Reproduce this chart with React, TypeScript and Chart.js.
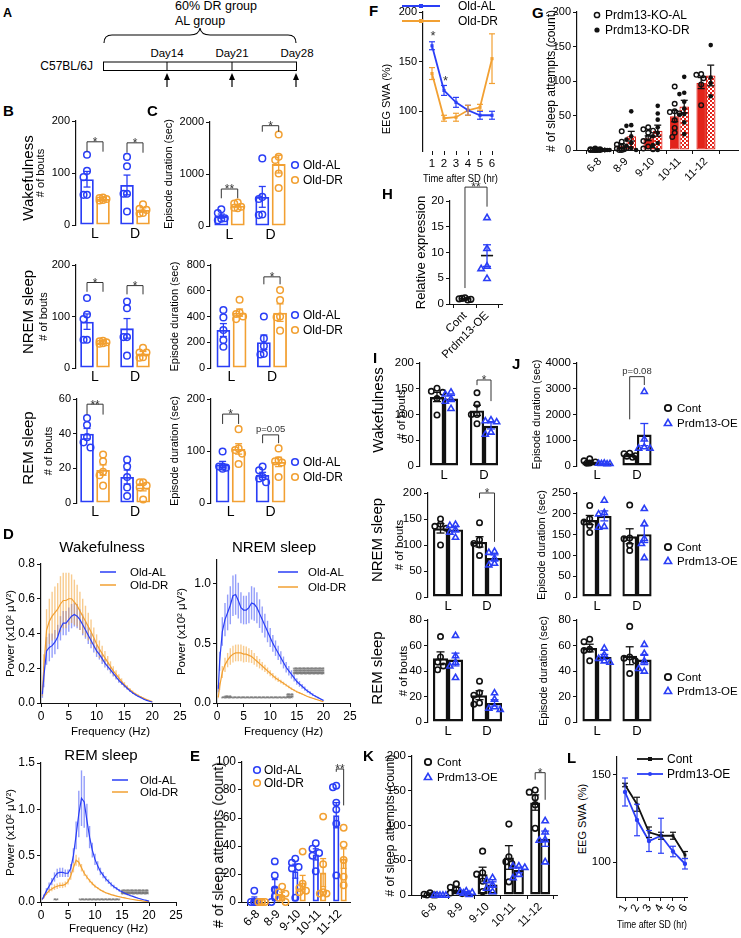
import React, { useEffect, useRef } from 'react';
import { Chart, registerables } from 'chart.js';

Chart.register(...registerables);

const FF = '"Liberation Sans", Arial, Helvetica, sans-serif';
Chart.defaults.font.family = FF;
Chart.defaults.color = '#000';

const BLUE = '#2a3ef6';
const ORANGE = '#f2a032';
const RED = '#e2231a';
const INK = '#111111';
const BLUE_E = 'rgba(42,62,246,0.5)';
const ORANGE_E = 'rgba(242,160,50,0.55)';

/* ===================== DATA ===================== */
const LD = ['L', 'D'];
const SLEEP_BINS = ['6-8', '8-9', '9-10', '10-11', '11-12'];
const OE_GROUPS = ['Cont', 'Prdm13-OE'];
const HOURS = [1, 2, 3, 4, 5, 6];

// B – number of bouts (Old-AL / Old-DR), categories L, D
const bWakeAL = [88, 77];
const bWakeALSem = [15, 19];
const bWakeALPts = [[135, 104, 92, 58, 58], [131, 113, 60, 60, 26]];
const bWakeDR = [50, 29];
const bWakeDRSem = [2, 4];
const bWakeDRPts = [[53, 52, 50, 48, 47], [40, 31, 29, 23, 22]];
const bNremAL = [90, 77];
const bNremALSem = [15, 19];
const bNremALPts = [[136, 104, 95, 55, 55], [129, 116, 60, 60, 24]];
const bNremDR = [50, 28];
const bNremDRSem = [2, 4];
const bNremDRPts = [[53, 52, 50, 48, 47], [39, 30, 30, 21, 20]];
const bRemAL = [40, 15];
const bRemALSem = [3, 4];
const bRemALPts = [[49, 45, 38, 35, 32], [25, 21, 15, 9, 4]];
const bRemDR = [19, 9];
const bRemDRSem = [3, 2];
const bRemDRPts = [[28, 24, 18, 16, 10], [12, 12, 10, 9, 2]];

// C – episode duration (sec)
const cWakeAL = [190, 560];
const cWakeALSem = [40, 200];
const cWakeALPts = [[320, 250, 150, 110, 140], [1300, 560, 520, 220, 210]];
const cWakeDR = [390, 1190];
const cWakeDRSem = [25, 170];
const cWakeDRPts = [[450, 430, 370, 350, 340], [1760, 1330, 1270, 1010, 730]];
const cNremAL = [295, 200];
const cNremALSem = [50, 56];
const cNremALPts = [[450, 393, 295, 217, 165], [400, 230, 170, 110, 105]];
const cNremDR = [430, 430];
const cNremDRSem = [28, 68];
const cNremDRPts = [[530, 430, 420, 400, 380], [605, 527, 400, 395, 290]];
const cRemAL = [74, 54];
const cRemALSem = [6, 5];
const cRemALPts = [[99, 70, 70, 68, 66], [70, 63, 50, 47, 40]];
const cRemDR = [104, 79];
const cRemDRSem = [10, 9];
const cRemDRPts = [[142, 105, 102, 95, 75], [105, 82, 80, 78, 50]];

// D – EEG power spectra (x10^2 uV^2)
const FREQ = [0.25, 0.5, 1, 1.5, 2, 2.5, 3, 3.5, 4, 4.5, 5, 5.5, 6, 6.5, 7, 7.5, 8, 8.5, 9, 9.5, 10, 10.5, 11, 11.5, 12, 12.5, 13, 13.5, 14, 14.5, 15, 15.5, 16, 16.5, 17, 17.5, 18, 18.5, 19, 19.5, 20];
const wakeAL = [0.05, 0.15, 0.3, 0.32, 0.33, 0.35, 0.38, 0.43, 0.46, 0.46, 0.48, 0.5, 0.51, 0.5, 0.48, 0.45, 0.42, 0.39, 0.36, 0.33, 0.3, 0.28, 0.255, 0.23, 0.21, 0.19, 0.17, 0.15, 0.13, 0.115, 0.1, 0.085, 0.07, 0.058, 0.048, 0.038, 0.03, 0.022, 0.015, 0.01, 0.006];
const wakeALSem = [0.02, 0.06, 0.08, 0.08, 0.07, 0.07, 0.07, 0.07, 0.07, 0.07, 0.07, 0.07, 0.07, 0.07, 0.06, 0.06, 0.05, 0.05, 0.045, 0.04, 0.035, 0.03, 0.03, 0.025, 0.022, 0.02, 0.018, 0.015, 0.013, 0.011, 0.01, 0.008, 0.007, 0.006, 0.005, 0.004, 0.003, 0.003, 0.002, 0.002, 0.001];
const wakeDR = [0.07, 0.2, 0.42, 0.47, 0.5, 0.52, 0.54, 0.57, 0.59, 0.59, 0.6, 0.6, 0.58, 0.56, 0.53, 0.5, 0.47, 0.44, 0.41, 0.375, 0.34, 0.31, 0.285, 0.26, 0.235, 0.21, 0.185, 0.165, 0.145, 0.125, 0.105, 0.09, 0.077, 0.064, 0.052, 0.043, 0.035, 0.027, 0.02, 0.014, 0.008];
const wakeDRSem = [0.03, 0.08, 0.12, 0.13, 0.14, 0.15, 0.15, 0.16, 0.16, 0.16, 0.15, 0.14, 0.13, 0.12, 0.11, 0.1, 0.09, 0.08, 0.07, 0.06, 0.055, 0.05, 0.045, 0.04, 0.035, 0.03, 0.027, 0.024, 0.02, 0.017, 0.015, 0.012, 0.01, 0.008, 0.007, 0.006, 0.005, 0.004, 0.003, 0.002, 0.001];
const nremAL = [0.12, 0.35, 0.6, 0.7, 0.76, 0.82, 0.9, 0.91, 0.86, 0.8, 0.78, 0.78, 0.8, 0.84, 0.83, 0.8, 0.75, 0.7, 0.65, 0.6, 0.55, 0.5, 0.46, 0.42, 0.38, 0.34, 0.3, 0.27, 0.24, 0.21, 0.18, 0.16, 0.14, 0.12, 0.1, 0.085, 0.07, 0.057, 0.045, 0.033, 0.022];
const nremALSem = [0.03, 0.08, 0.12, 0.14, 0.15, 0.16, 0.17, 0.17, 0.15, 0.13, 0.12, 0.12, 0.13, 0.14, 0.14, 0.13, 0.12, 0.11, 0.1, 0.09, 0.08, 0.07, 0.065, 0.06, 0.055, 0.05, 0.045, 0.04, 0.035, 0.03, 0.027, 0.024, 0.02, 0.018, 0.015, 0.013, 0.011, 0.009, 0.007, 0.005, 0.004];
const nremDR = [0.05, 0.14, 0.26, 0.32, 0.36, 0.39, 0.41, 0.42, 0.42, 0.42, 0.41, 0.41, 0.4, 0.39, 0.37, 0.35, 0.33, 0.31, 0.29, 0.27, 0.25, 0.23, 0.21, 0.195, 0.18, 0.165, 0.15, 0.135, 0.12, 0.107, 0.095, 0.085, 0.075, 0.065, 0.055, 0.047, 0.04, 0.032, 0.025, 0.018, 0.012];
const nremDRSem = [0.01, 0.03, 0.05, 0.06, 0.06, 0.07, 0.07, 0.07, 0.07, 0.07, 0.07, 0.065, 0.06, 0.055, 0.05, 0.045, 0.04, 0.035, 0.03, 0.028, 0.025, 0.022, 0.02, 0.018, 0.016, 0.014, 0.012, 0.011, 0.01, 0.009, 0.008, 0.007, 0.006, 0.005, 0.004, 0.004, 0.003, 0.003, 0.002, 0.002, 0.001];
const remAL = [0.03, 0.06, 0.12, 0.17, 0.22, 0.27, 0.31, 0.32, 0.32, 0.31, 0.31, 0.36, 0.5, 0.72, 0.95, 1.12, 1.08, 0.88, 0.7, 0.56, 0.46, 0.39, 0.33, 0.29, 0.25, 0.22, 0.19, 0.165, 0.145, 0.125, 0.11, 0.095, 0.082, 0.07, 0.06, 0.05, 0.04, 0.032, 0.024, 0.017, 0.01];
const remALSem = [0.01, 0.02, 0.03, 0.04, 0.04, 0.05, 0.05, 0.05, 0.05, 0.04, 0.04, 0.05, 0.08, 0.15, 0.25, 0.3, 0.28, 0.18, 0.12, 0.08, 0.06, 0.05, 0.04, 0.035, 0.03, 0.025, 0.022, 0.02, 0.017, 0.015, 0.013, 0.011, 0.01, 0.008, 0.007, 0.006, 0.005, 0.004, 0.003, 0.002, 0.002];
const remDR = [0.03, 0.05, 0.09, 0.12, 0.14, 0.16, 0.17, 0.18, 0.18, 0.19, 0.22, 0.28, 0.37, 0.45, 0.43, 0.37, 0.31, 0.27, 0.23, 0.2, 0.17, 0.15, 0.13, 0.115, 0.1, 0.09, 0.08, 0.072, 0.064, 0.057, 0.05, 0.044, 0.038, 0.032, 0.027, 0.022, 0.018, 0.014, 0.01, 0.007, 0.004];
const remDRSem = [0.005, 0.01, 0.015, 0.02, 0.025, 0.03, 0.03, 0.03, 0.03, 0.03, 0.03, 0.04, 0.05, 0.06, 0.05, 0.04, 0.03, 0.025, 0.02, 0.018, 0.015, 0.013, 0.011, 0.01, 0.009, 0.008, 0.007, 0.006, 0.005, 0.005, 0.004, 0.004, 0.003, 0.003, 0.002, 0.002, 0.002, 0.001, 0.001, 0.001, 0.001];
// significance rows [fromHz, toHz, y]
const NREM_SIG = [[1, 14.2, 0.05], [1.5, 2.5, 0.062], [13.2, 14.2, 0.062], [13.2, 14.2, 0.074], [14.5, 20, 0.25], [14.5, 20, 0.265], [14.5, 20, 0.28], [14.5, 20, 0.295]];
const REM_SIG = [[2.5, 3.2, 0.035], [7.2, 14.5, 0.035], [15, 19.8, 0.1], [15, 19.8, 0.115], [15, 19.8, 0.13]];

// E – sleep attempts (Old-AL / Old-DR)
const eAL = [2, 11, 22, 34, 62];
const eALSem = [1.6, 5, 5, 4, 9];
const eALPts = [[8, 0, 0, 0, 0], [29, 19, 9, 4, 0], [31, 28, 25, 24, 3], [42, 38, 35, 33, 22], [83, 82, 71, 66, 56, 19]];
const eDR = [0, 5, 14, 21, 31];
const eDRSem = [0, 2, 5, 10, 7];
const eDRPts = [[0, 0, 0, 0, 0], [11, 7, 6, 3, 0], [36, 13, 10, 8, 7], [61, 27, 7, 6, 6], [53, 41, 30, 18, 12]];

// F – EEG SWA (%) after SD
const fAL = [166, 121, 109, 101, 96, 96];
const fALSem = [4, 5, 5, 5, 4, 4];
const fDR = [138, 93, 94, 101, 104, 153];
const fDRSem = [6, 3, 4, 5, 3, 25];

// G – sleep attempts Prdm13-KO
const gAL = [1, 6, 17, 49, 97];
const gALSem = [0.5, 3, 3.5, 8, 8];
const gALPts = [[2, 1, 1, 0, 0, 0, 0, 0, 0], [27, 12, 8, 5, 3, 2, 1, 0, 0], [33, 30, 28, 25, 18, 13, 5, 2, 1], [92, 67, 56, 55, 53, 43, 32, 25, 19], [110, 109, 104, 95, 65]];
const gDR = [0, 20, 28, 63, 108];
const gDRSem = [0, 7, 8, 9, 15];
const gDRPts = [[0, 0, 0, 0, 0, 0, 0, 0, 0], [56, 36, 35, 20, 15, 10, 6, 3, 0], [64, 53, 44, 33, 25, 20, 10, 7, 0], [106, 83, 81, 70, 60, 52, 51, 40, 23], [152, 105, 97, 78]];

// H – relative expression
const hCont = [1.0];
const hContSem = [0.1];
const hContPts = [[1.2, 1.0, 0.9, 1.1, 0.8]];
const hOE = [9.4];
const hOESem = [2.1];
const hOEPts = [[16.8, 10.8, 7.4, 6.9, 5.0]];

// I – number of bouts (Cont / Prdm13-OE)
const iWakeCont = [134, 108];
const iWakeContSem = [9, 10];
const iWakeContPts = [[151, 145, 143, 131, 99], [142, 120, 100, 100, 82]];
const iWakeOE = [131, 78];
const iWakeOESem = [6, 6];
const iWakeOEPts = [[144, 140, 131, 126, 112], [90, 88, 86, 66, 62]];
const iNremCont = [132, 106];
const iNremContSem = [9, 10];
const iNremContPts = [[150, 140, 136, 132, 100], [143, 110, 103, 100, 80]];
const iNremOE = [130, 75];
const iNremOESem = [5, 6];
const iNremOEPts = [[140, 138, 130, 125, 115], [88, 86, 75, 65, 62]];
const iRemCont = [50, 21];
const iRemContSem = [5, 3.5];
const iRemContPts = [[67, 51, 47, 44, 41], [32, 23, 21, 15, 14]];
const iRemOE = [49, 15];
const iRemOESem = [5, 2.5];
const iRemOEPts = [[68, 52, 47, 44, 35], [23, 18, 12, 11, 10]];

// J – episode duration (Cont / Prdm13-OE)
const jWakeCont = [174, 420];
const jWakeContSem = [30, 30];
const jWakeContPts = [[280, 200, 160, 120, 110], [500, 480, 400, 380, 340]];
const jWakeOE = [104, 1220];
const jWakeOESem = [5, 430];
const jWakeOEPts = [[120, 110, 100, 100, 90], [2900, 1050, 750, 700, 700]];
const jNremCont = [185, 146];
const jNremContSem = [11, 18];
const jNremContPts = [[220, 188, 180, 172, 155], [221, 142, 140, 125, 112]];
const jNremOE = [195, 151];
const jNremOESem = [12, 20];
const jNremOEPts = [[233, 203, 200, 170, 168], [213, 177, 141, 129, 95]];
const jRemCont = [58, 52];
const jRemContSem = [3, 7];
const jRemContPts = [[65, 63, 57, 56, 48], [75, 51, 50, 48, 38]];
const jRemOE = [51, 49];
const jRemOESem = [2, 4];
const jRemOEPts = [[58, 53, 50, 48, 47], [61, 54, 48, 40, 42]];

// K – sleep attempts (Cont / Prdm13-OE)
const kCont = [1, 8, 30, 54, 133];
const kContSem = [0.5, 3, 10, 17, 11];
const kContPts = [[3, 1, 0, 0, 0], [16, 11, 8, 3, 2], [63, 32, 30, 20, 5], [102, 55, 48, 45, 19], [151, 148, 140, 130, 96]];
const kOE = [0, 4, 15, 36, 81];
const kOESem = [0, 1, 4, 4, 11];
const kOEPts = [[0, 0, 0, 0, 0], [6, 5, 4, 3, 1], [25, 21, 15, 10, 5], [42, 42, 40, 30, 25], [107, 91, 80, 79, 48]];

// L – EEG SWA (%) Cont / Prdm13-OE
const lCont = [144, 133, 117, 115, 115, 104];
const lContSem = [1, 4, 3, 2, 2, 2];
const lOE = [140, 124, 112, 115, 106, 99];
const lOESem = [8, 9, 6, 10, 3, 3];

// tick values
const T_200 = [0, 100, 200];
const T_2000 = [0, 1000, 2000];
const T_800 = [0, 200, 400, 600, 800];
const T_60 = [0, 20, 40, 60];
const T_DW = [0, 0.2, 0.4, 0.6, 0.8];
const T_DN = [0, 0.5, 1.0];
const T_DR = [0, 0.5, 1.0, 1.5];
const T_HZ = [0, 5, 10, 15, 20, 25];
const T_E = [0, 20, 40, 60, 80, 100];
const T_SWA_F = [100, 150, 200];
const T_50_200 = [0, 50, 100, 150, 200];
const T_H = [0, 5, 10, 15, 20];
const T_4000 = [0, 1000, 2000, 3000, 4000];
const T_250 = [0, 50, 100, 150, 200, 250];
const T_80 = [0, 20, 40, 60, 80];
const T_SWA_L = [100, 150];

/* ===================== DRAW HELPERS ===================== */
function seg(ctx: any, x1: number, y1: number, x2: number, y2: number) {
  ctx.beginPath();
  ctx.moveTo(x1, y1);
  ctx.lineTo(x2, y2);
  ctx.stroke();
}

function drawMarker(ctx: any, kind: string, x: number, y: number, r: number, color: string, lw: number) {
  ctx.save();
  ctx.strokeStyle = color;
  ctx.fillStyle = color;
  ctx.lineWidth = lw;
  ctx.beginPath();
  if (kind === 'tri') {
    const h = r * 1.15;
    ctx.moveTo(x, y - h);
    ctx.lineTo(x + h * 0.98, y + h * 0.68);
    ctx.lineTo(x - h * 0.98, y + h * 0.68);
    ctx.closePath();
    ctx.stroke();
  } else if (kind === 'dot') {
    ctx.arc(x, y, r, 0, Math.PI * 2);
    ctx.fill();
  } else if (kind === 'rect') {
    ctx.rect(x - r, y - r, 2 * r, 2 * r);
    ctx.fill();
  } else {
    ctx.arc(x, y, r, 0, Math.PI * 2);
    ctx.stroke();
  }
  ctx.restore();
}

function swarm(pys: number[], r: number, half: number) {
  const placed: number[][] = [];
  const out: number[] = [];
  for (const py of pys) {
    let chosen = 0;
    let best = -1;
    for (let k = 0; k < 21; k++) {
      const off = k === 0 ? 0 : (k % 2 === 1 ? -1 : 1) * Math.ceil(k / 2) * r * 1.05;
      if (Math.abs(off) > half + 0.01) continue;
      let minD = Infinity;
      for (const q of placed) minD = Math.min(minD, Math.hypot(q[0] - off, q[1] - py));
      if (minD >= 1.9 * r) { chosen = off; break; }
      if (minD > best) { best = minD; chosen = off; }
    }
    placed.push([chosen, py]);
    out.push(chosen);
  }
  return out;
}

const extras = {
  id: 'extras',
  beforeDatasetsDraw(chart: any, _a: any, o: any) {
    const ctx = chart.ctx;
    const xs = chart.scales.x;
    const ys = chart.scales.y;
    chart.data.datasets.forEach((ds: any, i: number) => {
      if (!ds.sems || !ds.errUnder) return;
      const meta = chart.getDatasetMeta(i);
      ctx.save();
      ctx.strokeStyle = ds.ecolor;
      ctx.lineWidth = ds.elw;
      meta.data.forEach((el: any, j: number) => {
        const v = ds.data[j].y;
        const e = ds.sems[j];
        seg(ctx, el.x, ys.getPixelForValue(v + e), el.x, ys.getPixelForValue(Math.max(0, v - e)));
      });
      ctx.restore();
    });
    (o.sig || []).forEach((row: number[]) => {
      ctx.save();
      ctx.fillStyle = '#777';
      ctx.font = `8px ${FF}`;
      ctx.textAlign = 'center';
      ctx.textBaseline = 'middle';
      for (let f = row[0]; f <= row[1] + 1e-9; f += 0.25) {
        ctx.fillText('*', xs.getPixelForValue(f), ys.getPixelForValue(row[2]) + 2);
      }
      ctx.restore();
    });
  },
  afterDatasetsDraw(chart: any, _a: any, o: any) {
    const ctx = chart.ctx;
    const xs = chart.scales.x;
    const ys = chart.scales.y;
    const ox = o.origin ? o.origin.l : 0;
    const oy = o.origin ? o.origin.t : 0;
    chart.data.datasets.forEach((ds: any, i: number) => {
      const meta = chart.getDatasetMeta(i);
      meta.data.forEach((el: any, j: number) => {
        const v = ds.data[j].y;
        const x = el.x;
        const w = el.width || 0;
        if (ds.meanLine) {
          ctx.save();
          ctx.strokeStyle = ds.meanLine;
          ctx.lineWidth = 1.6;
          const yy = ys.getPixelForValue(v);
          seg(ctx, x - w / 2, yy, x + w / 2, yy);
          ctx.restore();
        }
        if (ds.sems && !ds.errUnder && ds.sems[j] > 0) {
          const e = ds.sems[j];
          const yt = ys.getPixelForValue(v + e);
          const yb = ys.getPixelForValue(Math.max(ys.min, v - e));
          ctx.save();
          ctx.strokeStyle = ds.ecolor;
          ctx.lineWidth = ds.elw;
          seg(ctx, x, yt, x, yb);
          if (ds.cap) {
            seg(ctx, x - ds.cap, yt, x + ds.cap, yt);
            seg(ctx, x - ds.cap, yb, x + ds.cap, yb);
          }
          ctx.restore();
        }
        if (ds.pts && ds.pts[j]) {
          const pys = ds.pts[j].map((p: number) => ys.getPixelForValue(p));
          const half = ds.spread != null ? ds.spread : Math.max(2, w / 2 - 1);
          const offs = swarm(pys, ds.mr, half);
          pys.forEach((py: number, k: number) => drawMarker(ctx, ds.marker, x + offs[k], py, ds.mr, ds.mcolor, ds.mlw));
        }
      });
    });
    (o.brackets || []).forEach((b: any) => {
      const ea = chart.getDatasetMeta(b.a != null ? b.a : 0).data[b.cat];
      const eb = chart.getDatasetMeta(b.b != null ? b.b : 1).data[b.cat];
      if (!ea || !eb) return;
      const xa = ea.x;
      const xb = eb.x;
      const yt = ys.getPixelForValue(b.top);
      ctx.save();
      ctx.strokeStyle = '#333';
      ctx.lineWidth = 1;
      ctx.beginPath();
      ctx.moveTo(xa, ys.getPixelForValue(b.l));
      ctx.lineTo(xa, yt);
      ctx.lineTo(xb, yt);
      ctx.lineTo(xb, ys.getPixelForValue(b.r));
      ctx.stroke();
      const star = b.text[0] === '*';
      const size = b.size || (star ? 12 : 9.5);
      ctx.fillStyle = '#333';
      ctx.font = `${size}px ${FF}`;
      ctx.textAlign = 'center';
      ctx.textBaseline = 'alphabetic';
      ctx.fillText(b.text, (xa + xb) / 2, star ? yt + size * 0.36 : yt - 3);
      ctx.restore();
    });
    (o.notes || []).forEach((n: any) => {
      ctx.save();
      ctx.fillStyle = '#333';
      ctx.font = `${n.size || 12}px ${FF}`;
      ctx.textAlign = 'center';
      ctx.textBaseline = 'middle';
      ctx.fillText(n.text, xs.getPixelForValue(n.x), ys.getPixelForValue(n.y));
      ctx.restore();
    });
    (o.legend || []).forEach((it: any) => {
      const x = it.x - ox;
      const y = it.y - oy;
      ctx.save();
      if (it.marker === 'line') {
        ctx.strokeStyle = it.color;
        ctx.lineWidth = it.lw || 1.5;
        seg(ctx, x, y, it.x2 - ox, y);
        if (it.pm) drawMarker(ctx, it.pm, (x + it.x2 - ox) / 2, y, it.r || 2, it.color, 1);
      } else {
        drawMarker(ctx, it.marker, x, y, it.r || 3, it.color, it.mlw || 1.6);
      }
      ctx.fillStyle = '#000';
      ctx.font = `${it.size || 11}px ${FF}`;
      ctx.textBaseline = 'middle';
      ctx.textAlign = 'left';
      ctx.fillText(it.label, it.tx - ox, y + 0.5);
      ctx.restore();
    });
    (o.texts || []).forEach((t: any) => {
      ctx.save();
      ctx.fillStyle = t.color || '#000';
      ctx.font = `${t.bold ? 'bold ' : ''}${t.size || 11}px ${FF}`;
      ctx.textAlign = t.align || 'center';
      ctx.textBaseline = 'middle';
      ctx.fillText(t.text, t.x - ox, t.y - oy);
      ctx.restore();
    });
  },
};

/* ===================== CONFIG BUILDERS ===================== */
function frame(c: any, p: any) {
  return {
    padding: { left: 0, top: p.y0 - c.t, right: c.l + c.w - p.x1, bottom: 0 },
    yW: p.x0 - c.l,
    xH: c.t + c.h - p.y1,
  };
}

function baseOptions(p: any, f: any) {
  const xl = p.xLine || 'none';
  return {
    responsive: false,
    animation: false,
    events: [],
    layout: { padding: f.padding },
    plugins: {
      legend: { display: false },
      tooltip: { enabled: false },
      title: { display: false },
      extras: {
        origin: { l: p.rect.l, t: p.rect.t },
        brackets: p.brackets || [],
        legend: p.legend || [],
        texts: p.texts || [],
        notes: p.notes || [],
        sig: p.sig || [],
      },
    },
    scales: {
      x: {
        type: 'linear',
        min: p.xmin,
        max: p.xmax,
        offset: false,
        afterBuildTicks: (s: any) => { s.ticks = p.xticks.map((v: number) => ({ value: v })); },
        afterFit: (s: any) => { s.height = f.xH; },
        ticks: {
          autoSkip: false,
          minRotation: p.xRot || 0,
          maxRotation: p.xRot || 0,
          padding: p.xPad != null ? p.xPad : 2,
          font: { size: p.xFont || 11 },
          color: '#000',
          callback: (v: number) => p.xlab(v),
        },
        grid: { display: !!p.xMarks, drawOnChartArea: false, drawTicks: !!p.xMarks, tickLength: 4, color: INK, lineWidth: 1 },
        border: { display: xl !== 'none', color: INK, width: 1, dash: xl === 'dotted' ? [2, 2] : [] },
        title: p.xtitle
          ? { display: true, text: p.xtitle, font: { size: p.xtitleSize || 11 }, padding: 0, color: '#000' }
          : { display: false },
      },
      y: {
        type: 'linear',
        min: p.ymin,
        max: p.ymax,
        afterBuildTicks: (s: any) => { s.ticks = p.yticks.map((v: number) => ({ value: v })); },
        afterFit: (s: any) => { s.width = f.yW; },
        ticks: { padding: 2, font: { size: p.tickFont || 11 }, color: '#000', callback: (v: number) => (p.yfmt ? p.yfmt(v) : String(v)) },
        grid: { display: true, drawOnChartArea: false, drawTicks: true, tickLength: 4, color: INK, lineWidth: 1 },
        border: { display: true, color: INK, width: 1.2 },
        title: p.ytitle
          ? { display: true, text: p.ytitle, font: { size: p.ytitleSize || 11 }, padding: 0, color: '#000' }
          : { display: false },
      },
    },
  };
}

function barPanel(p: any) {
  const f = frame(p.rect, p.plot);
  const datasets = p.series.map((s: any) => ({
    type: 'bar',
    label: s.label,
    data: s.means.map((m: number, j: number) => ({ x: s.at != null ? s.at : j, y: m })),
    backgroundColor: s.bg,
    borderColor: s.border,
    borderWidth: s.bw,
    borderSkipped: false,
    categoryPercentage: p.catPct,
    barPercentage: p.barPct,
    grouped: p.grouped !== false,
    sems: s.sems,
    pts: s.pts,
    marker: s.marker,
    mcolor: s.mcolor,
    mr: p.r,
    mlw: s.mlw || 1.5,
    ecolor: s.ecolor,
    elw: s.elw || 1.3,
    cap: s.cap != null ? s.cap : p.cap != null ? p.cap : 3.5,
    meanLine: s.meanLine,
    spread: s.spread != null ? s.spread : p.spread,
  }));
  const q = { ...p, xticks: p.xticks || p.cats.map((_: any, i: number) => i), xlab: (v: number) => p.cats[Math.round(v)] || '' };
  return { type: 'bar', data: { datasets }, options: baseOptions(q, f), plugins: [extras] };
}

function linePanel(p: any) {
  const f = frame(p.rect, p.plot);
  const datasets = p.series.map((s: any) => ({
    type: 'line',
    label: s.label,
    data: s.xs.map((x: number, i: number) => ({ x, y: s.ys[i] })),
    borderColor: s.color,
    borderWidth: s.lw || 1.5,
    pointRadius: s.pr || 0,
    pointStyle: s.ps || 'circle',
    pointBackgroundColor: s.color,
    pointBorderColor: s.color,
    pointBorderWidth: 0,
    fill: false,
    tension: 0,
    sems: s.sems,
    ecolor: s.ecolor || s.color,
    elw: s.elw || 1.2,
    cap: s.cap || 0,
    errUnder: !!s.errUnder,
  }));
  const q = { ...p, xlab: p.xlab || ((v: number) => String(v)) };
  return { type: 'line', data: { datasets }, options: baseOptions(q, f), plugins: [extras] };
}

const TRANSPARENT = 'rgba(255,255,255,0)';
const alS = (means: number[], sems: number[], pts: number[][]) => ({ label: 'Old-AL', means, sems, pts, bg: TRANSPARENT, border: BLUE, bw: 1.8, marker: 'circle', mcolor: BLUE, ecolor: BLUE });
const drS = (means: number[], sems: number[], pts: number[][]) => ({ label: 'Old-DR', means, sems, pts, bg: TRANSPARENT, border: ORANGE, bw: 1.8, marker: 'circle', mcolor: ORANGE, ecolor: ORANGE });
const contS = (means: number[], sems: number[], pts: number[][]) => ({ label: 'Cont', means, sems, pts, bg: '#fff', border: INK, bw: 2.4, marker: 'circle', mcolor: INK, ecolor: INK, mlw: 1.6 });
const oeS = (means: number[], sems: number[], pts: number[][]) => ({ label: 'Prdm13-OE', means, sems, pts, bg: '#fff', border: INK, bw: 2.4, marker: 'tri', mcolor: BLUE, ecolor: BLUE, mlw: 1.6 });

const legAD = (x: number, y1: number, y2: number, tx: number, size: number) => [
  { x, y: y1, marker: 'circle', color: BLUE, label: 'Old-AL', tx, size, r: 3.3 },
  { x, y: y2, marker: 'circle', color: ORANGE, label: 'Old-DR', tx, size, r: 3.3 },
];
const legCO = (x: number, y1: number, y2: number, tx: number, size: number) => [
  { x, y: y1, marker: 'circle', color: INK, label: 'Cont', tx, size, r: 3.2, mlw: 1.8 },
  { x, y: y2, marker: 'tri', color: BLUE, label: 'Prdm13-OE', tx, size, r: 3.2, mlw: 1.6 },
];

function checker() {
  const c = document.createElement('canvas');
  c.width = 4;
  c.height = 4;
  const g = c.getContext('2d') as any;
  g.fillStyle = RED;
  g.fillRect(0, 0, 4, 4);
  g.fillStyle = '#ffffff';
  g.fillRect(0, 0, 2, 2);
  g.fillRect(2, 2, 2, 2);
  return g.createPattern(c, 'repeat');
}

const fmt1 = (v: number) => v.toFixed(1);

/* ===================== PANELS ===================== */
function buildPanels() {
  const P: any[] = [];
  const add = (rect: any, kind: string, spec: any) => P.push({ rect, make: () => (kind === 'bar' ? barPanel({ ...spec, rect }) : linePanel({ ...spec, rect })) });

  // ---- B / C rows ----
  const bcCommon = { cats: LD, tickFont: 11, xFont: 14, xPad: 1, catPct: 0.8, barPct: 0.85, r: 3.3, ytitleSize: 11 };
  add({ l: 34, t: 111, w: 126, h: 134 }, 'bar', {
    ...bcCommon, plot: { x0: 76, y0: 121, x1: 153, y1: 225 }, xmin: -0.475, xmax: 1.45,
    ymin: 0, ymax: 200, yticks: T_200, ytitle: '# of bouts',
    series: [alS(bWakeAL, bWakeALSem, bWakeALPts), drS(bWakeDR, bWakeDRSem, bWakeDRPts)],
    brackets: [{ cat: 0, top: 160, l: 141, r: 141, text: '*' }, { cat: 1, top: 158, l: 139, r: 139, text: '*' }],
  });
  add({ l: 162, t: 112, w: 185, h: 134 }, 'bar', {
    ...bcCommon, plot: { x0: 210, y0: 122, x1: 290, y1: 226 }, xmin: -0.476, xmax: 1.476,
    ymin: 0, ymax: 2000, yticks: T_2000, ytitle: 'Episode duration (sec)',
    series: [alS(cWakeAL, cWakeALSem, cWakeALPts), drS(cWakeDR, cWakeDRSem, cWakeDRPts)],
    brackets: [{ cat: 0, top: 711, l: 533, r: 533, text: '**' }, { cat: 1, top: 1929, l: 1813, r: 1813, text: '*' }],
    legend: legAD(295, 165, 180, 303, 12),
  });
  add({ l: 37, t: 255, w: 123, h: 133 }, 'bar', {
    ...bcCommon, plot: { x0: 76, y0: 265, x1: 153, y1: 368 }, xmin: -0.475, xmax: 1.45,
    ymin: 0, ymax: 200, yticks: T_200, ytitle: '# of bouts',
    series: [alS(bNremAL, bNremALSem, bNremALPts), drS(bNremDR, bNremDRSem, bNremDRPts)],
    brackets: [{ cat: 0, top: 166, l: 148, r: 148, text: '*' }, { cat: 1, top: 160, l: 143, r: 143, text: '*' }],
  });
  add({ l: 168, t: 255, w: 179, h: 133 }, 'bar', {
    ...bcCommon, plot: { x0: 211, y0: 265, x1: 291, y1: 368 }, xmin: -0.506, xmax: 1.47,
    ymin: 0, ymax: 800, yticks: T_800, ytitle: 'Episode duration (sec)',
    series: [alS(cNremAL, cNremALSem, cNremALPts), drS(cNremDR, cNremDRSem, cNremDRPts)],
    brackets: [{ cat: 1, top: 708, l: 650, r: 650, text: '*' }],
    legend: legAD(295, 315, 330, 303, 12),
  });
  add({ l: 42, t: 389, w: 118, h: 131 }, 'bar', {
    ...bcCommon, plot: { x0: 77, y0: 399, x1: 154, y1: 503 }, xmin: -0.45, xmax: 1.47,
    ymin: 0, ymax: 60, yticks: T_60, ytitle: '# of bouts',
    series: [alS(bRemAL, bRemALSem, bRemALPts), drS(bRemDR, bRemDRSem, bRemDRPts)],
    brackets: [{ cat: 0, top: 57, l: 51, r: 51, text: '**' }],
  });
  add({ l: 168, t: 389, w: 179, h: 131 }, 'bar', {
    ...bcCommon, plot: { x0: 211, y0: 399, x1: 291, y1: 503 }, xmin: -0.49, xmax: 1.51,
    ymin: 0, ymax: 200, yticks: T_200, ytitle: 'Episode duration (sec)',
    series: [alS(cRemAL, cRemALSem, cRemALPts), drS(cRemDR, cRemDRSem, cRemDRPts)],
    brackets: [{ cat: 0, top: 171, l: 152, r: 152, text: '*' }, { cat: 1, top: 131, l: 115, r: 115, text: 'p=0.05' }],
    legend: legAD(295, 462, 477, 303, 12),
  });

  // ---- D spectra ----
  const spec = (al: number[], alS2: number[], dr: number[], drS2: number[]) => [
    { label: 'Old-AL', xs: FREQ, ys: al, sems: alS2, color: BLUE, lw: 1.2, ecolor: BLUE_E, elw: 1.4, errUnder: true },
    { label: 'Old-DR', xs: FREQ, ys: dr, sems: drS2, color: ORANGE, lw: 1.2, ecolor: ORANGE_E, elw: 1.4, errUnder: true },
  ];
  const dCommon = { xmin: 0, xmax: 25, xticks: T_HZ, xLine: 'solid', xMarks: true, xFont: 12, tickFont: 12, yfmt: fmt1, xtitle: 'Frequency (Hz)', xtitleSize: 11.5, ytitle: 'Power (x10\u00B2 \u03BCV\u00B2)', ytitleSize: 11.5 };
  const dLeg = (x: number, x2: number, y1: number, y2: number, tx: number) => [
    { marker: 'line', x, x2, y: y1, color: BLUE, label: 'Old-AL', tx, size: 11.5, lw: 1.5 },
    { marker: 'line', x, x2, y: y2, color: ORANGE, label: 'Old-DR', tx, size: 11.5, lw: 1.5 },
  ];
  add({ l: 4, t: 538, w: 191, h: 201 }, 'line', {
    ...dCommon, plot: { x0: 41, y0: 564, x1: 180, y1: 703 }, ymin: 0, ymax: 0.8, yticks: T_DW,
    series: spec(wakeAL, wakeALSem, wakeDR, wakeDRSem),
    legend: dLeg(100, 116, 572, 585, 130),
    texts: [{ text: 'Wakefulness', x: 102, y: 548, size: 15 }],
  });
  add({ l: 175, t: 538, w: 190, h: 201 }, 'line', {
    ...dCommon, plot: { x0: 217, y0: 560, x1: 350, y1: 703 }, ymin: 0, ymax: 1.2, yticks: T_DN,
    series: spec(nremAL, nremALSem, nremDR, nremDRSem),
    legend: dLeg(278, 298, 572, 587, 308),
    texts: [{ text: 'NREM sleep', x: 274, y: 548, size: 15 }],
    sig: NREM_SIG,
  });
  add({ l: 4, t: 745, w: 191, h: 191 }, 'line', {
    ...dCommon, plot: { x0: 41, y0: 763, x1: 176, y1: 902 }, ymin: 0, ymax: 1.5, yticks: T_DR,
    series: spec(remAL, remALSem, remDR, remDRSem),
    legend: dLeg(112, 128, 780, 792, 140),
    texts: [{ text: 'REM sleep', x: 101, y: 756, size: 15 }],
    sig: REM_SIG,
  });

  // ---- E ----
  add({ l: 205, t: 752, w: 155, h: 186 }, 'bar', {
    cats: SLEEP_BINS, plot: { x0: 242, y0: 762, x1: 350, y1: 902 }, xmin: -0.78, xmax: 4.49,
    ymin: 0, ymax: 100, yticks: T_E, tickFont: 12, xFont: 12, xRot: 45, xPad: 1, xLine: 'solid', xMarks: true,
    catPct: 0.72, barPct: 0.85, r: 3.2, spread: 6, cap: 3,
    series: [alS(eAL, eALSem, eALPts), drS(eDR, eDRSem, eDRPts)],
    brackets: [{ cat: 4, top: 95, l: 93, r: 69, text: '**' }],
    legend: legAD(257, 770, 783, 264, 12),
  });

  // ---- F ----
  add({ l: 390, t: 0, w: 120, h: 186 }, 'line', {
    plot: { x0: 423, y0: 12, x1: 498, y1: 151 }, xmin: 0.25, xmax: 6.5, xticks: HOURS, xLine: 'none', xMarks: true,
    ymin: 60, ymax: 200, yticks: T_SWA_F, tickFont: 11, xFont: 11.5, xtitle: 'Time after SD (hr)', xtitleSize: 11.5,
    series: [
      { label: 'Old-AL', xs: HOURS, ys: fAL, sems: fALSem, color: BLUE, lw: 1.8, pr: 2.2, ps: 'rect', cap: 3, elw: 1.2 },
      { label: 'Old-DR', xs: HOURS, ys: fDR, sems: fDRSem, color: ORANGE, lw: 1.8, pr: 2.2, ps: 'rect', cap: 3, elw: 1.2 },
    ],
    notes: [{ x: 1.08, y: 175, text: '*', size: 13 }, { x: 2.12, y: 130, text: '*', size: 13 }],
    legend: [
      { marker: 'line', x: 402, x2: 440, y: 6, color: BLUE, pm: 'rect', r: 2, label: 'Old-AL', tx: 458, size: 12, lw: 1.8 },
      { marker: 'line', x: 402, x2: 440, y: 21, color: ORANGE, pm: 'rect', r: 2, label: 'Old-DR', tx: 458, size: 12, lw: 1.8 },
    ],
  });

  // ---- G ----
  const pat = checker();
  add({ l: 544, t: 0, w: 197, h: 190 }, 'bar', {
    cats: SLEEP_BINS, plot: { x0: 577, y0: 12, x1: 738, y1: 150 }, xmin: -0.868, xmax: 5.21,
    ymin: 0, ymax: 200, yticks: T_50_200, tickFont: 11, xFont: 11, xRot: 45, xPad: 1, xLine: 'dotted', xMarks: true,
    ytitle: '# of sleep attempts (count)', ytitleSize: 12,
    catPct: 0.72, barPct: 1, r: 2.3, spread: 6, cap: 3.5,
    series: [
      { label: 'Prdm13-KO-AL', means: gAL, sems: gALSem, pts: gALPts, bg: RED, border: RED, bw: 1, marker: 'circle', mcolor: INK, ecolor: INK, mlw: 1.4 },
      { label: 'Prdm13-KO-DR', means: gDR, sems: gDRSem, pts: gDRPts, bg: pat, border: RED, bw: 1.2, marker: 'dot', mcolor: INK, ecolor: INK },
    ],
    legend: [
      { x: 597, y: 15, marker: 'circle', color: INK, label: 'Prdm13-KO-AL', tx: 605, size: 12, r: 2.6, mlw: 1.5 },
      { x: 597, y: 30, marker: 'dot', color: INK, label: 'Prdm13-KO-DR', tx: 605, size: 12, r: 2.6 },
    ],
  });

  // ---- H ----
  add({ l: 414, t: 178, w: 96, h: 190 }, 'bar', {
    cats: OE_GROUPS, plot: { x0: 450, y0: 201, x1: 502, y1: 304 }, xmin: -0.68, xmax: 1.68,
    ymin: 0, ymax: 20, yticks: T_H, tickFont: 11.5, xFont: 11.5, xRot: 45, xPad: 1, xLine: 'solid', xMarks: true,
    ytitle: 'Relative expression', ytitleSize: 13, grouped: false,
    catPct: 0.55, barPct: 1, r: 2.8, cap: 4,
    series: [
      { label: 'Cont', at: 0, means: hCont, sems: hContSem, pts: hContPts, bg: TRANSPARENT, border: TRANSPARENT, bw: 0, marker: 'circle', mcolor: INK, ecolor: INK, meanLine: INK, spread: 8, mlw: 1.6 },
      { label: 'Prdm13-OE', at: 1, means: hOE, sems: hOESem, pts: hOEPts, bg: TRANSPARENT, border: TRANSPARENT, bw: 0, marker: 'tri', mcolor: BLUE, ecolor: BLUE, meanLine: INK, spread: 6, mlw: 1.6 },
    ],
    brackets: [{ cat: 0, a: 0, b: 1, top: 22.7, l: 3.1, r: 18.9, text: '**' }],
  });

  // ---- I / J rows ----
  const ijCommon = { cats: LD, tickFont: 11.5, xFont: 13, xPad: 2, barPct: 1, r: 2.7, ytitleSize: 11.5, cap: 4 };
  add({ l: 395, t: 353, w: 115, h: 132 }, 'bar', {
    ...ijCommon, plot: { x0: 420, y0: 363, x1: 506, y1: 466 }, xmin: -0.6, xmax: 1.55, catPct: 0.7,
    ymin: 0, ymax: 200, yticks: T_50_200, ytitle: '# of bouts',
    series: [contS(iWakeCont, iWakeContSem, iWakeContPts), oeS(iWakeOE, iWakeOESem, iWakeOEPts)],
    brackets: [{ cat: 1, top: 167, l: 157, r: 126, text: '*' }],
  });
  add({ l: 530, t: 353, w: 211, h: 132 }, 'bar', {
    ...ijCommon, plot: { x0: 577, y0: 363, x1: 657, y1: 466 }, xmin: -0.5, xmax: 1.5, catPct: 0.73, ytitleSize: 11,
    ymin: 0, ymax: 4000, yticks: T_4000, ytitle: 'Episode duration (sec)',
    series: [contS(jWakeCont, jWakeContSem, jWakeContPts), oeS(jWakeOE, jWakeOESem, jWakeOEPts)],
    brackets: [{ cat: 1, top: 3470, l: 1813, r: 3145, text: 'p=0.08' }],
    legend: legCO(668, 408, 423, 677, 11.5),
  });
  add({ l: 393, t: 483, w: 117, h: 132 }, 'bar', {
    ...ijCommon, plot: { x0: 428, y0: 493, x1: 508, y1: 597 }, xmin: -0.513, xmax: 1.538, catPct: 0.77,
    ymin: 0, ymax: 200, yticks: T_50_200, ytitle: '# of bouts',
    series: [contS(iNremCont, iNremContSem, iNremContPts), oeS(iNremOE, iNremOESem, iNremOEPts)],
    brackets: [{ cat: 1, top: 200, l: 190, r: 106, text: '*' }],
  });
  add({ l: 535, t: 483, w: 206, h: 132 }, 'bar', {
    ...ijCommon, plot: { x0: 577, y0: 493, x1: 657, y1: 597 }, xmin: -0.5, xmax: 1.5, catPct: 0.73, ytitleSize: 11,
    ymin: 0, ymax: 250, yticks: T_250, ytitle: 'Episode duration (sec)',
    series: [contS(jNremCont, jNremContSem, jNremContPts), oeS(jNremOE, jNremOESem, jNremOEPts)],
    legend: legCO(668, 547, 561, 677, 11.5),
  });
  add({ l: 397, t: 610, w: 113, h: 130 }, 'bar', {
    ...ijCommon, plot: { x0: 428, y0: 620, x1: 508, y1: 722 }, xmin: -0.513, xmax: 1.538, catPct: 0.77,
    ymin: 0, ymax: 80, yticks: T_80, ytitle: '# of bouts',
    series: [contS(iRemCont, iRemContSem, iRemContPts), oeS(iRemOE, iRemOESem, iRemOEPts)],
  });
  add({ l: 537, t: 610, w: 204, h: 130 }, 'bar', {
    ...ijCommon, plot: { x0: 577, y0: 620, x1: 657, y1: 722 }, xmin: -0.5, xmax: 1.5, catPct: 0.73, ytitleSize: 11,
    ymin: 0, ymax: 80, yticks: T_80, ytitle: 'Episode duration (sec)',
    series: [contS(jRemCont, jRemContSem, jRemContPts), oeS(jRemOE, jRemOESem, jRemOEPts)],
    legend: legCO(668, 677, 691, 677, 11.5),
  });

  // ---- K ----
  add({ l: 383, t: 746, w: 177, h: 192 }, 'bar', {
    cats: SLEEP_BINS, plot: { x0: 412, y0: 756, x1: 557, y1: 895 }, xmin: -0.875, xmax: 4.64,
    ymin: 0, ymax: 200, yticks: T_50_200, tickFont: 11.5, xFont: 11.5, xRot: 45, xPad: 1, xLine: 'dotted', xMarks: true,
    ytitle: '# of sleep attempts (count)', ytitleSize: 12,
    catPct: 0.76, barPct: 1, r: 2.8, spread: 6, cap: 4,
    series: [contS(kCont, kContSem, kContPts), oeS(kOE, kOESem, kOEPts)],
    brackets: [{ cat: 4, top: 176, l: 166, r: 137, text: '*' }],
    legend: legCO(428, 762, 777, 437, 11.5),
  });

  // ---- L ----
  add({ l: 590, t: 745, w: 151, h: 187 }, 'line', {
    plot: { x0: 617, y0: 757, x1: 687, y1: 897 }, xmin: 0.33, xmax: 6.17, xticks: HOURS, xLine: 'solid', xMarks: true,
    ymin: 80, ymax: 160, yticks: T_SWA_L, tickFont: 11.5, xFont: 11.5, xRot: 60, xPad: 1,
    xtitle: 'Time after SD (hr)', xtitleSize: 11.5,
    series: [
      { label: 'Cont', xs: HOURS, ys: lCont, sems: lContSem, color: INK, lw: 1.8, pr: 2, ps: 'rect', cap: 3, elw: 1.2 },
      { label: 'Prdm13-OE', xs: HOURS, ys: lOE, sems: lOESem, color: BLUE, lw: 1.8, pr: 2.2, ps: 'circle', cap: 3, elw: 1.2 },
    ],
    legend: [
      { marker: 'line', x: 637, x2: 663, y: 759, color: INK, pm: 'rect', r: 2, label: 'Cont', tx: 667, size: 12, lw: 1.8 },
      { marker: 'line', x: 637, x2: 663, y: 774, color: BLUE, pm: 'dot', r: 2, label: 'Prdm13-OE', tx: 667, size: 12, lw: 1.8 },
    ],
  });
  return P;
}

/* ===================== COMPONENTS ===================== */
function ChartBox({ rect, make }: any) {
  const ref = useRef<HTMLCanvasElement | null>(null);
  useEffect(() => {
    const chart = new Chart(ref.current as any, make());
    return () => chart.destroy();
  }, []);
  return (
    <canvas
      ref={ref}
      width={rect.w}
      height={rect.h}
      style={{ position: 'absolute', left: rect.l, top: rect.t, width: rect.w, height: rect.h }}
    />
  );
}

function Letter({ x, y, s = 15, children }: any) {
  return (
    <div style={{ position: 'absolute', left: x, top: y, fontFamily: FF, fontWeight: 'bold', fontSize: s, lineHeight: `${s}px`, color: '#000' }}>
      {children}
    </div>
  );
}

function VText({ cx, cy, s, children }: any) {
  return (
    <div
      style={{
        position: 'absolute', left: cx, top: cy, fontFamily: FF, fontSize: s, lineHeight: `${s}px`, whiteSpace: 'nowrap',
        transform: 'translate(-50%, -50%) rotate(-90deg)', color: '#000',
      }}
    >
      {children}
    </div>
  );
}

function PanelA() {
  const arrow = (x: number) => (
    <g key={x}>
      <line x1={x} y1={87} x2={x} y2={77} stroke="#000" strokeWidth={1.2} />
      <path d={`M${x - 3},${80} L${x},${73} L${x + 3},${80} Z`} fill="#000" />
    </g>
  );
  return (
    <svg width={330} height={95} style={{ position: 'absolute', left: 0, top: 0 }} fontFamily={FF}>
      <text x={3} y={17} fontSize={12.5} fontWeight="bold">A</text>
      <text x={175} y={10} fontSize={12.5}>60% DR group</text>
      <text x={175} y={25} fontSize={12.5}>AL group</text>
      <path d="M104,43 Q104,35 112,35 L190,35 Q199,35 200,28 Q201,35 210,35 L288,35 Q296,35 296,43" fill="none" stroke="#000" strokeWidth={1.1} />
      <text x={167} y={57} fontSize={11.5} textAnchor="middle">Day14</text>
      <text x={232} y={57} fontSize={11.5} textAnchor="middle">Day21</text>
      <text x={297} y={57} fontSize={11.5} textAnchor="middle">Day28</text>
      <rect x={103.5} y={62} width={193} height={8.5} fill="none" stroke="#000" strokeWidth={1} />
      <line x1={167} y1={62} x2={167} y2={70.5} stroke="#000" strokeWidth={1} />
      <line x1={232} y1={62} x2={232} y2={70.5} stroke="#000" strokeWidth={1} />
      <text x={93} y={70} fontSize={12} textAnchor="end">C57BL/6J</text>
      {[167, 232, 296].map(arrow)}
    </svg>
  );
}

export default function App() {
  const panels = buildPanels();
  return (
    <div style={{ position: 'absolute', left: 0, top: 0, width: 741, height: 938, background: '#fff', overflow: 'hidden' }}>
      <PanelA />
      {panels.map((p, i) => (
        <ChartBox key={i} rect={p.rect} make={p.make} />
      ))}
      <Letter x={3} y={103}>B</Letter>
      <Letter x={147} y={103}>C</Letter>
      <Letter x={3} y={526}>D</Letter>
      <Letter x={190} y={748}>E</Letter>
      <Letter x={369} y={3}>F</Letter>
      <Letter x={532} y={5}>G</Letter>
      <Letter x={382} y={186}>H</Letter>
      <Letter x={373} y={350}>I</Letter>
      <Letter x={512} y={356}>J</Letter>
      <Letter x={363} y={748}>K</Letter>
      <Letter x={567} y={750}>L</Letter>
      <VText cx={27} cy={178} s={15}>Wakefulness</VText>
      <VText cx={27} cy={312} s={15}>NREM sleep</VText>
      <VText cx={27} cy={448} s={15}>REM sleep</VText>
      <VText cx={377} cy={410} s={15}>Wakefulness</VText>
      <VText cx={376} cy={540} s={15}>NREM sleep</VText>
      <VText cx={376} cy={668} s={15}>REM sleep</VText>
      <VText cx={218} cy={845} s={14}># of sleep attempts (count)</VText>
      <VText cx={386} cy={99} s={11}>EEG SWA (%)</VText>
      <VText cx={582} cy={819} s={11}>EEG SWA (%)</VText>
    </div>
  );
}
